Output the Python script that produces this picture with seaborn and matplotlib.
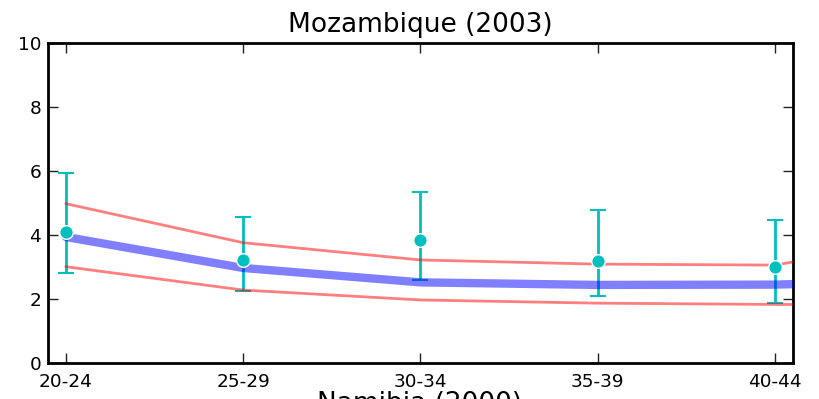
import seaborn as sns
from matplotlib import pyplot as plt
import numpy as np
import pandas as pd

# age groups (last one only carries the model lines, it sits off the edge)
ages = ["20-24", "25-29", "30-34", "35-39", "40-44", "45-49"]
model_mid = [3.94, 2.97, 2.52, 2.44, 2.45, 2.60]
model_hi = [4.98, 3.76, 3.22, 3.09, 3.06, 4.05]
model_lo = [3.01, 2.28, 1.97, 1.87, 1.83, 1.83]

# survey points with error bars
obs_ages = ["20-24", "25-29", "30-34", "35-39", "40-44"]
obs_val = [4.10, 3.22, 3.85, 3.19, 3.00]
obs_hi = [5.93, 4.56, 5.35, 4.78, 4.47]
obs_lo = [2.81, 2.25, 2.60, 2.08, 1.86]

sns.set_style("ticks")
plt.rcParams['font.family'] = ['DejaVu Sans']
plt.rcParams['text.color'] = 'black'
plt.rcParams['xtick.color'] = 'black'
plt.rcParams['ytick.color'] = 'black'

fig = plt.figure(figsize=(8.2, 3.99), dpi=100)
ax = fig.add_axes([0.0585, 0.0902, 0.9085, 0.8020])

pos = {a: i for i, a in enumerate(ages)}
lines = pd.DataFrame({"x": [pos[a] for a in ages], "mid": model_mid,
                      "hi": model_hi, "lo": model_lo})
obs = pd.DataFrame({"x": [pos[a] for a in obs_ages], "val": obs_val,
                    "hi": obs_hi, "lo": obs_lo})

# error bars first, then model lines, dots on top
ax.errorbar(obs["x"], obs["val"],
            yerr=[obs["val"] - obs["lo"], obs["hi"] - obs["val"]],
            fmt="none", ecolor="c", elinewidth=2, capsize=6, capthick=1.5, zorder=2)
sns.lineplot(data=lines, x="x", y="mid", color="blue", alpha=0.5, lw=6, ax=ax, zorder=3)
sns.lineplot(data=lines, x="x", y="hi", color="red", alpha=0.5, lw=2, ax=ax, zorder=3)
sns.lineplot(data=lines, x="x", y="lo", color="red", alpha=0.5, lw=2, ax=ax, zorder=3)
sns.scatterplot(data=obs, x="x", y="val", color="c", s=95, edgecolor="white",
                linewidth=1, ax=ax, zorder=4)

ax.set_xlim(-0.1, 4.1)
ax.set_ylim(0, 10)
ax.set_xticks(range(len(obs_ages)))
ax.set_xticklabels(obs_ages)
ax.set_yticks([0, 2, 4, 6, 8, 10])
ax.set_xlabel("")
ax.set_ylabel("")
for s in ax.spines.values():
    s.set_visible(True)
    s.set_linewidth(2)
    s.set_color("black")
ax.tick_params(direction="in", length=7, width=1, labelsize=13.3,
               top=True, right=True, color="#222222", labelcolor="black")
ax.tick_params(axis="x", pad=7)
ax.tick_params(axis="y", pad=5)
ax.set_title("Mozambique (2003)", fontsize=19, pad=8, color="black")

# title of the next panel, cut off by the figure edge
fig.text(0.512, -0.012, "Namibia (2000)", fontsize=19, ha="center", va="center")

fig.savefig("out.png", dpi=100)
